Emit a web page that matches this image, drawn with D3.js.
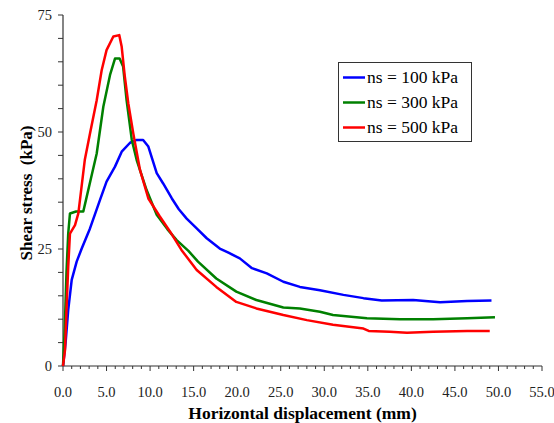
<!DOCTYPE html>
<html><head><meta charset="utf-8">
<script src="https://cdn.jsdelivr.net/npm/d3@7"></script>
</head><body style="margin:0;background:#fff">
<svg id="c" width="554" height="423" style="display:block"></svg>
<script>
const xTicks = [0,5,10,15,20,25,30,35,40,45,50,55];
const yTicks = [0,25,50,75];
const seriesNames = ["ns = 100 kPa","ns = 300 kPa","ns = 500 kPa"];
const seriesColors = ["#0000ff","#008000","#ff0000"];

const disp100 = [0,0.3,0.6,1.0,1.57,2.15,3.1,4.25,5.0,5.97,6.74,7.7,8.46,9.2,9.8,10.76,11.5,12.5,13.3,14.2,15.35,16.5,18.0,19.0,20.3,21.7,23.4,25.3,27.2,29.5,32.2,34.5,36.6,40.2,43.3,46.4,49.2];
const stress100 = [0,5,12,18.4,22.3,25.1,29.4,35.5,39.4,42.6,45.8,47.7,48.3,48.3,46.9,41.2,39.0,35.8,33.5,31.5,29.4,27.3,25.1,24.2,23.0,20.9,19.8,18.0,16.9,16.2,15.2,14.5,14.0,14.1,13.6,13.9,14.0];

const disp300 = [0,0.2,0.4,0.6,0.8,1.5,2.33,2.64,3.2,3.87,4.63,5.4,5.97,6.5,6.9,7.3,7.9,8.46,9.6,10.76,12.0,13.05,14.4,15.5,17.6,19.9,22.2,25.3,27.2,29.5,31.0,34.9,38.7,42.5,46.4,49.6];
const stress300 = [0,8,20,28.3,32.6,33.0,33.0,35.5,40,45.4,55.4,62.2,65.7,65.7,64.0,56.8,48.3,44.0,37.6,32.3,29.2,26.9,24.6,22.3,18.7,15.9,14.1,12.5,12.3,11.6,10.9,10.2,10.0,10.0,10.2,10.4];

const disp500 = [0,0.23,0.4,0.6,0.8,1.38,1.76,1.95,2.5,3.1,3.87,4.44,5.0,5.78,6.46,6.74,7.1,7.5,8.07,8.84,9.8,11.1,12.3,13.6,15.35,17.6,19.9,22.2,25.3,28.0,31.0,34.5,35.1,37.5,39.5,42.5,46.4,49.0];
const stress500 = [0,3.4,12,21.2,28.3,30.1,32.6,35.5,44.0,49.7,56.8,63.2,67.5,70.4,70.7,68.2,61.8,56.1,49.7,41.9,35.8,32.0,28.7,24.8,20.5,16.9,13.7,12.3,10.9,9.8,8.8,8.0,7.5,7.3,7.1,7.3,7.5,7.5];

const allDisp = [disp100, disp300, disp500];
const allStress = [stress100, stress300, stress500];

const svg = d3.select("#c");
const FONT = '"Liberation Serif"';
const x = d3.scaleLinear().domain([0,55]).range([63,542]);
const y = d3.scaleLinear().domain([0,75]).range([366,15]);
const axisColor = "#333";

// x axis
const xAxis = svg.append("g").attr("transform","translate(0,366)");
xAxis.append("line").attr("x1",x(0)).attr("x2",x(55)).attr("y1",0).attr("y2",0).attr("stroke",axisColor).attr("stroke-width",1.2);
xAxis.selectAll(".minor").data(d3.range(0,56,1)).enter().append("line")
  .attr("x1",d=>x(d)).attr("x2",d=>x(d)).attr("y1",0).attr("y2",d=>d%5===0?5:3)
  .attr("stroke",axisColor).attr("stroke-width",1);
xAxis.selectAll(".lbl").data(xTicks).enter().append("text")
  .attr("x",d=>x(d)).attr("y",30.5).attr("text-anchor","middle")
  .style("font-family",FONT).style("font-size","14.5px").attr("fill","#222")
  .text(d=>d3.format(".1f")(d));

// y axis
const yAxis = svg.append("g").attr("transform","translate(63,0)");
yAxis.append("line").attr("x1",0).attr("x2",0).attr("y1",y(0)).attr("y2",y(75)).attr("stroke",axisColor).attr("stroke-width",1.2);
yAxis.selectAll(".minor").data(d3.range(0,76,5)).enter().append("line")
  .attr("x1",-5).attr("x2",0).attr("y1",d=>y(d)).attr("y2",d=>y(d))
  .attr("stroke",axisColor).attr("stroke-width",1);
yAxis.selectAll(".lbl").data(yTicks).enter().append("text")
  .attr("x",-11).attr("y",d=>y(d)+5).attr("text-anchor","end")
  .style("font-family",FONT).style("font-size","14.5px").attr("fill","#222")
  .text(d=>d);

// titles
svg.append("text").attr("x",x(27.5)).attr("y",419).attr("text-anchor","middle")
  .style("font-family",FONT).style("font-size","17.5px").style("font-weight","bold").attr("fill","#000")
  .text("Horizontal displacement (mm)");
svg.append("text").attr("transform","translate(32,193) rotate(-90)").attr("text-anchor","middle")
  .style("font-family",FONT).style("font-size","17px").style("font-weight","bold").attr("fill","#000")
  .style("white-space","pre")
  .text("Shear stress  (kPa)");

// lines
const line = d3.line().x(d=>x(d[0])).y(d=>y(d[1]));
allDisp.forEach((dx,i)=>{
  const pts = dx.map((v,j)=>[v, allStress[i][j]]);
  svg.append("path").datum(pts).attr("d",line).attr("fill","none")
    .attr("stroke",seriesColors[i]).attr("stroke-width",2.5).attr("stroke-linejoin","round");
});

// legend
const lg = svg.append("g");
lg.append("rect").attr("x",338.5).attr("y",62.5).attr("width",133).attr("height",79)
  .attr("fill","#fff").attr("stroke","#333").attr("stroke-width",1);
seriesNames.forEach((n,i)=>{
  const yy = 77.5 + i*25;
  lg.append("line").attr("x1",343).attr("x2",365).attr("y1",yy).attr("y2",yy)
    .attr("stroke",seriesColors[i]).attr("stroke-width",2.5);
  lg.append("text").attr("x",367).attr("y",yy+5.5).style("font-family",FONT).style("font-size","17.5px")
    .attr("fill","#000").text(n);
});
</script>
</body></html>
